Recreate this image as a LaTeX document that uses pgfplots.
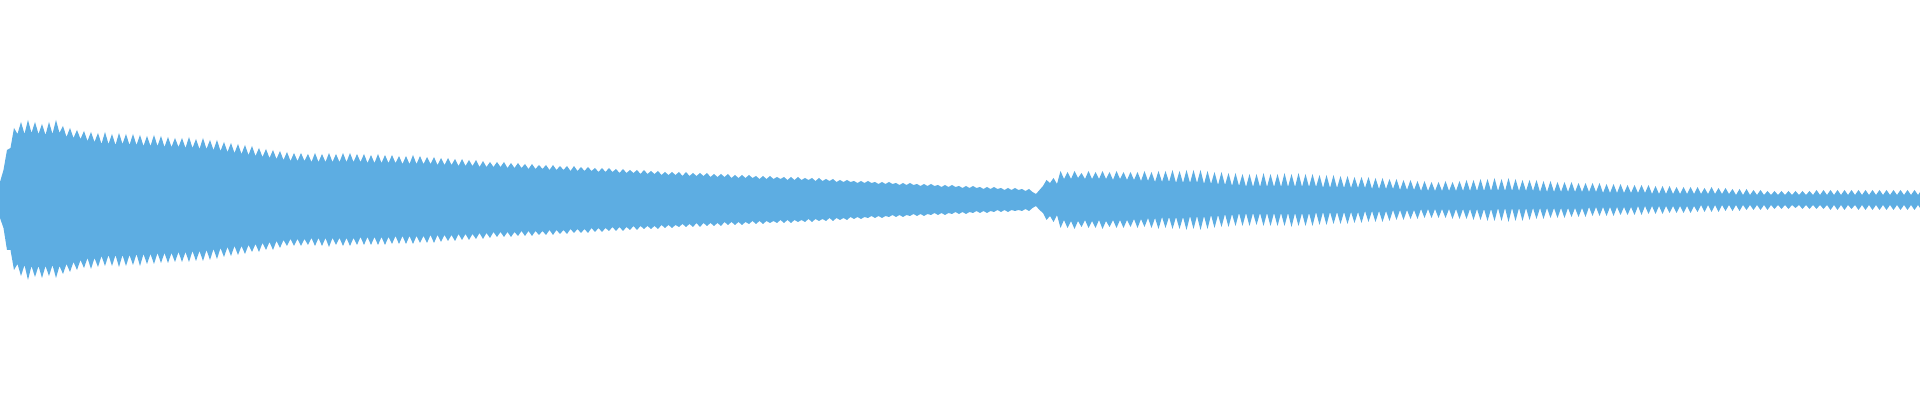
\documentclass[border=0pt]{standalone}
\usepackage{pgfplots}
\pgfplotsset{compat=1.18}
\usepackage{pgfplotstable}
\usepgfplotslibrary{fillbetween}
\definecolor{wave}{HTML}{5DADE2}
\pgfplotstableread{
x t b
0 18 -18
3.5 30 -28
7 50 -50
10.5 52 -50
14 72 -70
17.5 66 -64
21 78 -76
24.5 66 -65
28 80 -80
31.5 67 -66
35 78 -77
38.5 66 -66
42 76 -78
45.5 65 -66
49 78 -76
52.5 66 -65
56 80 -78
59.5 67 -66
63 74 -74
66.5 63 -64
70 72 -72
73.5 62 -62
77 70 -70
80.5 61 -60
84 69 -68
87.5 59 -58
91 68 -69
94.5 58 -58
98 67 -67
101.5 56 -56
105 68 -66
108.5 56 -55
112 66 -66
115.5 55 -55
119 67 -67
122.5 56 -55
126 66 -66
129.5 55 -55
133 66 -65
136.5 55 -54
140 65 -66
143.5 54 -54
147 64 -64
150.5 54 -54
154 65 -64
157.5 54 -53
161 64 -63
164.5 53 -53
168 63 -63
171.5 53 -53
175 62 -62
178.5 53 -52
182 62 -62
185.5 52 -52
189 63 -62
192.5 52 -51
196 61 -61
199.5 51 -51
203 62 -61
206.5 51 -50
210 60 -60
213.5 50 -49
217 60 -59
220.5 49 -48
224 58 -57
227.5 48 -47
231 57 -56
234.5 47 -46
238 56 -55
241.5 46 -46
245 55 -54
248.5 45 -45
252 54 -52
255.5 44 -44
259 52 -52
262.5 43 -43
266 51 -50
269.5 42 -42
273 50 -50
276.5 41 -41
280 49 -48
283.5 40 -40
287 48 -46
290.5 39 -39
294 47 -46
297.5 39 -39
301 47 -46
304.5 39 -39
308 46 -45
311.5 38 -38
315 47 -46
318.5 38 -38
322 46 -46
325.5 38 -38
329 47 -47
332.5 38 -38
336 46 -45
339.5 38 -38
343 47 -46
346.5 38 -38
350 47 -46
353.5 38 -38
357 46 -45
360.5 38 -37
364 46 -45
367.5 37 -37
371 45 -45
374.5 37 -37
378 46 -45
381.5 37 -37
385 45 -45
388.5 37 -37
392 45 -44
395.5 37 -36
399 44 -44
402.5 36 -36
406 44 -44
409.5 36 -36
413 45 -44
416.5 36 -36
420 44 -43
423.5 36 -36
427 43 -43
430.5 36 -35
434 43 -43
437.5 35 -35
441 42 -42
444.5 35 -35
448 42 -41
451.5 35 -35
455 41 -41
458.5 34 -34
462 41 -40
465.5 34 -34
469 40 -40
472.5 34 -34
476 40 -39
479.5 33 -33
483 39 -39
486.5 33 -33
490 38 -38
493.5 33 -32
497 38 -37
500.5 33 -32
504 38 -37
507.5 32 -32
511 37 -37
514.5 32 -32
518 37 -36
521.5 32 -31
525 36 -36
528.5 31 -31
532 36 -36
535.5 31 -31
539 35 -35
542.5 31 -31
546 35 -35
549.5 30 -30
553 35 -35
556.5 30 -30
560 34 -34
563.5 30 -30
567 34 -34
570.5 29 -29
574 34 -33
577.5 29 -29
581 33 -33
584.5 29 -29
588 33 -33
591.5 29 -28
595 32 -32
598.5 28 -28
602 32 -32
605.5 28 -28
609 32 -31
612.5 28 -27
616 31 -31
619.5 27 -27
623 31 -31
626.5 27 -27
630 30 -30
633.5 27 -26
637 30 -30
640.5 26 -26
644 30 -29
647.5 26 -26
651 29 -29
654.5 26 -26
658 29 -29
661.5 25 -25
665 28 -28
668.5 25 -25
672 28 -28
675.5 25 -25
679 28 -27
682.5 24 -24
686 28 -27
689.5 24 -24
693 27 -27
696.5 24 -23
700 27 -27
703.5 24 -23
707 27 -26
710.5 23 -23
714 26 -26
717.5 23 -23
721 26 -26
724.5 23 -22
728 26 -25
731.5 22 -22
735 25 -25
738.5 22 -22
742 25 -25
745.5 22 -22
749 25 -24
752.5 22 -21
756 24 -24
759.5 21 -21
763 24 -24
766.5 21 -21
770 24 -23
773.5 21 -21
777 23 -23
780.5 21 -20
784 23 -23
787.5 20 -20
791 23 -23
794.5 20 -20
798 23 -22
801.5 20 -20
805 22 -22
808.5 20 -19
812 22 -22
815.5 19 -19
819 22 -21
822.5 19 -19
826 21 -21
829.5 19 -18
833 21 -21
836.5 18 -18
840 20 -20
843.5 18 -18
847 20 -20
850.5 18 -17
854 19 -19
857.5 17 -17
861 19 -19
864.5 17 -17
868 19 -18
871.5 17 -16
875 18 -18
878.5 16 -16
882 18 -18
885.5 16 -16
889 18 -17
892.5 16 -15
896 17 -17
899.5 15 -15
903 17 -17
906.5 15 -15
910 17 -16
913.5 15 -14
917 16 -16
920.5 14 -14
924 16 -16
927.5 14 -14
931 16 -15
934.5 14 -13
938 15 -15
941.5 13 -13
945 15 -15
948.5 13 -13
952 15 -14
955.5 13 -12
959 14 -14
962.5 12 -12
966 14 -14
969.5 12 -12
973 14 -13
976.5 12 -11
980 13 -13
983.5 11 -11
987 13 -13
990.5 11 -11
994 13 -12
997.5 11 -10
1001 12 -12
1004.5 10 -10
1008 12 -12
1011.5 10 -10
1015 12 -11
1018.5 10 -10
1022 11 -11
1025.5 9 -9
1029 11 -11
1032.5 8 -8
1036 6 -6
1039.5 10 -10
1043 14 -13
1046.5 20 -20
1050 17 -16
1053.5 22 -22
1057 16 -15
1060.5 29 -28
1064 21 -20
1067.5 28 -28
1071 21 -21
1074.5 29 -29
1078 22 -21
1081.5 27 -27
1085 21 -20
1088.5 29 -28
1092 21 -21
1095.5 28 -28
1099 21 -20
1102.5 29 -29
1106 21 -21
1109.5 28 -27
1113 20 -20
1116.5 29 -28
1120 21 -20
1123.5 28 -28
1127 20 -20
1130.5 28 -27
1134 20 -19
1137.5 28 -28
1141 19 -19
1144.5 29 -27
1148 19 -18
1151.5 28 -28
1155 18 -18
1158.5 29 -29
1162 18 -17
1165.5 29 -28
1169 18 -17
1172.5 30 -29
1176 17 -17
1179.5 29 -29
1183 17 -17
1186.5 30 -30
1190 17 -16
1193.5 30 -29
1197 17 -16
1200.5 30 -30
1204 16 -16
1207.5 29 -29
1211 16 -15
1214.5 28 -28
1218 15 -15
1221.5 28 -27
1225 15 -14
1228.5 27 -27
1232 14 -14
1235.5 27 -26
1239 14 -13
1242.5 26 -26
1246 13 -13
1249.5 26 -26
1253 13 -13
1256.5 26 -25
1260 13 -13
1263.5 27 -26
1267 13 -13
1270.5 26 -26
1274 13 -13
1277.5 26 -26
1281 13 -13
1284.5 27 -26
1288 13 -13
1291.5 26 -27
1295 13 -13
1298.5 27 -26
1302 13 -13
1305.5 26 -26
1309 13 -13
1312.5 26 -26
1316 13 -12
1319.5 25 -25
1323 12 -12
1326.5 25 -25
1330 12 -12
1333.5 25 -24
1337 12 -12
1340.5 24 -24
1344 12 -12
1347.5 24 -24
1351 12 -12
1354.5 23 -23
1358 12 -12
1361.5 23 -23
1365 12 -11
1368.5 23 -22
1372 11 -11
1375.5 22 -22
1379 11 -11
1382.5 22 -22
1386 11 -11
1389.5 21 -21
1393 11 -10
1396.5 21 -20
1400 10 -10
1403.5 20 -20
1407 10 -10
1410.5 20 -19
1414 10 -10
1417.5 19 -19
1421 9 -9
1424.5 19 -18
1428 9 -9
1431.5 18 -18
1435 9 -9
1438.5 18 -18
1442 9 -9
1445.5 19 -18
1449 9 -9
1452.5 18 -19
1456 9 -9
1459.5 19 -19
1463 9 -9
1466.5 20 -19
1470 9 -9
1473.5 20 -20
1477 9 -9
1480.5 21 -20
1484 9 -9
1487.5 21 -21
1491 9 -9
1494.5 22 -21
1498 9 -8
1501.5 21 -21
1505 9 -8
1508.5 22 -22
1512 9 -8
1515.5 21 -21
1519 9 -8
1522.5 20 -21
1526 9 -8
1529.5 20 -20
1533 9 -8
1536.5 20 -19
1540 8 -8
1543.5 19 -19
1547 8 -8
1550.5 19 -18
1554 8 -8
1557.5 18 -18
1561 8 -8
1564.5 18 -18
1568 8 -8
1571.5 18 -17
1575 8 -8
1578.5 17 -17
1582 8 -8
1585.5 17 -17
1589 8 -7
1592.5 17 -16
1596 8 -7
1599.5 17 -16
1603 7 -7
1606.5 16 -16
1610 7 -7
1613.5 16 -16
1617 7 -7
1620.5 16 -15
1624 7 -7
1627.5 15 -15
1631 7 -7
1634.5 15 -15
1638 7 -6
1641.5 15 -15
1645 7 -6
1648.5 15 -14
1652 6 -6
1655.5 14 -14
1659 6 -6
1662.5 14 -14
1666 6 -6
1669.5 14 -13
1673 6 -6
1676.5 13 -13
1680 6 -6
1683.5 13 -13
1687 6 -6
1690.5 13 -13
1694 6 -6
1697.5 13 -12
1701 6 -5
1704.5 12 -12
1708 6 -5
1711.5 13 -12
1715 6 -5
1718.5 12 -12
1722 6 -5
1725.5 12 -11
1729 6 -5
1732.5 11 -11
1736 5 -5
1739.5 11 -11
1743 5 -5
1746.5 11 -10
1750 5 -5
1753.5 10 -10
1757 5 -5
1760.5 10 -10
1764 5 -5
1767.5 9 -10
1771 5 -5
1774.5 9 -9
1778 5 -5
1781.5 9 -9
1785 5 -5
1788.5 9 -9
1792 5 -5
1795.5 9 -8
1799 5 -5
1802.5 9 -9
1806 5 -5
1809.5 9 -9
1813 5 -5
1816.5 10 -9
1820 5 -5
1823.5 10 -9
1827 5 -5
1830.5 10 -10
1834 5 -5
1837.5 10 -10
1841 5 -5
1844.5 10 -10
1848 5 -5
1851.5 10 -9
1855 5 -5
1858.5 10 -10
1862 5 -5
1865.5 10 -10
1869 5 -5
1872.5 10 -10
1876 5 -5
1879.5 10 -10
1883 5 -5
1886.5 10 -10
1890 5 -5
1893.5 10 -10
1897 5 -5
1900.5 10 -10
1904 5 -5
1907.5 10 -10
1911 5 -5
1914.5 10 -10
1918 5 -5
1920 8 -8
}\wave
\begin{document}
\begin{tikzpicture}
\begin{axis}[
  width=19.2cm, height=4cm, scale only axis,
  xmin=0, xmax=1920, ymin=-200, ymax=200,
  axis line style={draw=none}, xtick=\empty, ytick=\empty,
  clip=true,
]
\addplot[name path=top, draw=none] table[x=x, y=t] {\wave};
\addplot[name path=bot, draw=none] table[x=x, y=b] {\wave};
\addplot[fill=wave, draw=none] fill between[of=top and bot];
\end{axis}
\end{tikzpicture}
\end{document}
